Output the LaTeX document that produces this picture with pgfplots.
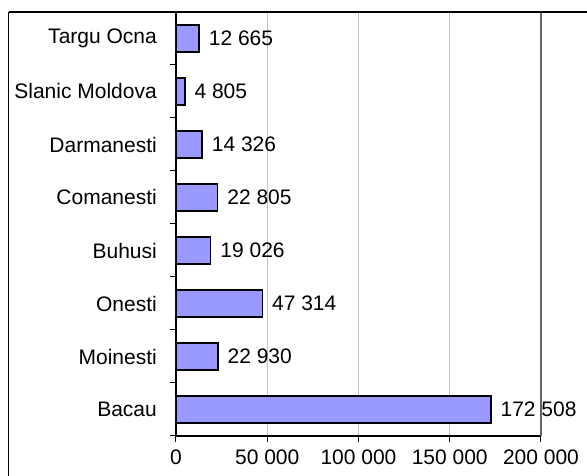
\documentclass[border=0pt]{standalone}
\usepackage{fontspec}
\setmainfont{Liberation Sans}
\usepackage{pgfplots}
\usepackage{pgfplotstable}
\pgfplotsset{compat=1.18}
\definecolor{barfill}{RGB}{153,153,255}
\definecolor{gridgray}{RGB}{192,192,192}
\definecolor{bordergray}{RGB}{100,100,100}

% town populations, bottom to top
\pgfplotstableread{
idx value label
0 172508 {172 508}
1 22930 {22 930}
2 47314 {47 314}
3 19026 {19 026}
4 22805 {22 805}
5 14326 {14 326}
6 4805 {4 805}
7 12665 {12 665}
}\towndata

\begin{document}
\begin{tikzpicture}[font=\fontsize{21}{25}\selectfont]
\begin{axis}[
  name=ax, scale only axis, width=365pt, height=424pt,
  xmin=0, xmax=200000, ymin=-0.5, ymax=7.5,
  xtick={0,50000,100000,150000,200000}, scaled x ticks=false,
  xticklabels={0,50 000,100 000,150 000,200 000},
  xmajorgrids, grid style={gridgray, line width=1pt},
  ytick={0,...,7},
  yticklabels={Bacau,Moinesti,Onesti,Buhusi,Comanesti,Darmanesti,Slanic Moldova,Targu Ocna},
  minor ytick={-0.5,0.5,...,7.5},
  every major y tick/.style={draw=none},
  tick align=outside, major tick length=6pt, minor tick length=6pt,
  tick style={black, line width=1pt},
  axis x line*=bottom, axis y line*=left,
  axis line style={-, line width=1.5pt},
  yticklabel style={inner sep=0pt, xshift=-13pt},
  xticklabel style={inner sep=0pt, yshift=-8pt},
  bar width=27pt,
  point meta=explicit symbolic,
  nodes near coords,
  nodes near coords style={anchor=west, inner sep=2pt, xshift=7pt, black},
]
\addplot[xbar, fill=barfill, draw=black, line width=1.5pt] table[x=value, y=idx, meta=label] {\towndata};
\end{axis}
\draw[bordergray, line width=2pt] (ax.north east) -- (ax.south east);
\draw[black, line width=1.5pt] ([xshift=-167pt]ax.north west) -- ([xshift=46pt]ax.north east);
\draw[black, line width=1pt] ([xshift=-167pt]ax.north west) -- ([xshift=-167pt, yshift=-40pt]ax.south west);
\pgfresetboundingbox
\useasboundingbox ([xshift=-176pt,yshift=-40pt]ax.south west) rectangle ([xshift=46pt,yshift=12pt]ax.north east);
\end{tikzpicture}
\end{document}
